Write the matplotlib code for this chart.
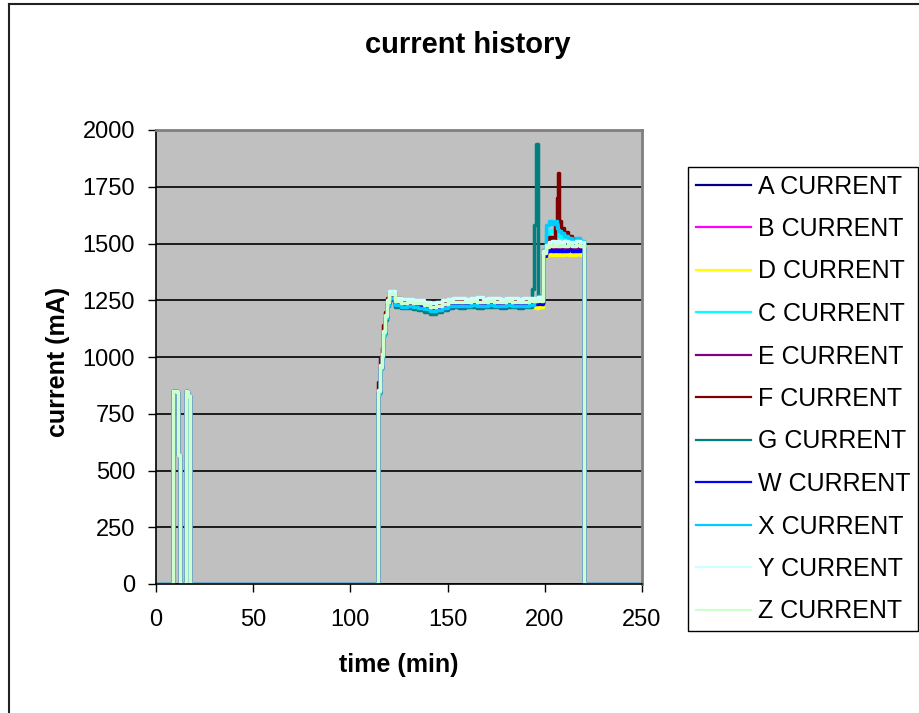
import matplotlib
matplotlib.use('Agg')
import matplotlib.pyplot as plt
from matplotlib.lines import Line2D

plt.rcParams['font.family'] = ['Liberation Sans', 'DejaVu Sans']

W, H = 919, 713

# power-on blips at the start, same for every channel
spike_t = [0, 8.8, 9.0, 11.0, 11.2, 12.1, 12.3, 15.0, 15.2, 16.0, 16.4, 17.4, 17.6]
spike_ma = [0, 0, 850, 845, 570, 565, 0, 0, 850, 845, 830, 825, 0]

# main run, minutes
run_t = [113.8, 114.2, 115, 116, 117, 118, 119,
         120, 123, 126, 129, 132, 135, 138, 141, 144, 147, 150, 153, 156,
         159, 162, 165, 168, 171, 174, 177, 180, 183, 186, 189, 192,
         193.5, 194.5, 195.5, 196.5, 198,
         199, 200.5, 202, 203.5, 205,
         206.2, 206.8, 207.4, 208.5, 210,
         212, 214, 216, 218, 220,
         220.3, 250]

labels = ['A CURRENT', 'B CURRENT', 'D CURRENT', 'C CURRENT', 'E CURRENT', 'F CURRENT',
          'G CURRENT', 'W CURRENT', 'X CURRENT', 'Y CURRENT', 'Z CURRENT']
colors = ['#000080', '#FF00FF', '#FFFF00', '#00FFFF', '#800080', '#800000',
          '#008080', '#0000FF', '#00CCFF', '#CCFFFF', '#CCFFCC']

a_ma = [0, 845, 955, 1005, 1105, 1175, 1235,
        1265, 1236, 1230, 1231, 1226, 1225, 1218, 1210, 1216, 1222, 1230, 1234, 1231,
        1233, 1236, 1232, 1233, 1236, 1234, 1231, 1236, 1233, 1231, 1234, 1236,
        1238, 1240, 1238, 1242, 1240,
        1450, 1470, 1478, 1480, 1478,
        1480, 1479, 1480, 1478, 1480,
        1479, 1478, 1480, 1478, 1479,
        0, 0]
b_ma = [0, 850, 960, 1010, 1110, 1180, 1240,
        1270, 1241, 1234, 1236, 1231, 1229, 1223, 1214, 1219, 1229, 1236, 1237, 1235,
        1239, 1241, 1235, 1239, 1239, 1237, 1237, 1241, 1239, 1235, 1237, 1239,
        1240, 1242, 1240, 1244, 1242,
        1452, 1472, 1480, 1482, 1480,
        1481, 1480, 1482, 1480, 1481,
        1480, 1479, 1481, 1480, 1480,
        0, 0]
d_ma = [0, 840, 950, 1000, 1100, 1170, 1230,
        1262, 1233, 1228, 1227, 1225, 1222, 1214, 1208, 1213, 1220, 1227, 1230, 1228,
        1230, 1232, 1228, 1231, 1232, 1230, 1228, 1231, 1226, 1224, 1222, 1224,
        1222, 1220, 1218, 1222, 1220,
        1440, 1448, 1450, 1452, 1450,
        1452, 1450, 1451, 1450, 1452,
        1450, 1451, 1452, 1450, 1452,
        0, 0]
c_ma = [0, 845, 950, 1005, 1100, 1175, 1235,
        1266, 1234, 1229, 1230, 1226, 1224, 1216, 1208, 1214, 1222, 1229, 1232, 1230,
        1232, 1234, 1231, 1232, 1234, 1232, 1230, 1234, 1232, 1230, 1232, 1234,
        1236, 1242, 1255, 1262, 1250,
        1460, 1540, 1560, 1555, 1548,
        1540, 1535, 1532, 1528, 1522,
        1518, 1515, 1520, 1512, 1508,
        0, 0]
e_ma = [0, 848, 955, 1008, 1105, 1178, 1238,
        1268, 1237, 1232, 1232, 1229, 1227, 1219, 1212, 1217, 1225, 1232, 1235, 1233,
        1235, 1237, 1233, 1235, 1237, 1235, 1233, 1237, 1235, 1233, 1235, 1237,
        1238, 1240, 1239, 1242, 1240,
        1452, 1470, 1476, 1478, 1476,
        1478, 1477, 1478, 1476, 1478,
        1477, 1476, 1478, 1476, 1477,
        0, 0]
f_ma = [0, 890, 1000, 1040, 1140, 1200, 1260,
        1285, 1258, 1252, 1250, 1246, 1243, 1236, 1229, 1233, 1241, 1248, 1250, 1248,
        1251, 1254, 1249, 1250, 1253, 1251, 1249, 1252, 1250, 1248, 1250, 1252,
        1248, 1250, 1248, 1252, 1250,
        1455, 1485, 1530, 1500, 1580,
        1700, 1810, 1600, 1570, 1550,
        1532, 1520, 1510, 1505, 1495,
        0, 0]
g_ma = [0, 835, 945, 995, 1095, 1165, 1225,
        1250, 1220, 1214, 1214, 1211, 1208, 1200, 1190, 1197, 1206, 1215, 1219, 1217,
        1219, 1221, 1216, 1219, 1221, 1219, 1217, 1221, 1219, 1217, 1219, 1221,
        1300, 1580, 1940, 1270, 1250,
        1470, 1490, 1500, 1498, 1496,
        1500, 1498, 1497, 1496, 1498,
        1497, 1496, 1498, 1496, 1497,
        0, 0]
w_ma = [0, 840, 950, 1000, 1100, 1172, 1232,
        1262, 1230, 1226, 1225, 1222, 1220, 1212, 1205, 1210, 1218, 1225, 1228, 1226,
        1228, 1230, 1226, 1228, 1230, 1228, 1226, 1230, 1228, 1226, 1228, 1230,
        1232, 1234, 1232, 1236, 1234,
        1445, 1465, 1470, 1468, 1470,
        1468, 1469, 1470, 1468, 1469,
        1470, 1468, 1469, 1470, 1468,
        0, 0]
x_ma = [0, 838, 945, 998, 1098, 1170, 1230,
        1258, 1228, 1222, 1223, 1220, 1217, 1210, 1203, 1208, 1216, 1223, 1226, 1224,
        1226, 1228, 1224, 1226, 1228, 1226, 1224, 1228, 1226, 1224, 1226, 1228,
        1230, 1245, 1262, 1270, 1255,
        1470, 1580, 1600, 1585, 1600,
        1570, 1560, 1555, 1545, 1535,
        1525, 1515, 1525, 1510, 1505,
        0, 0]
y_ma = [0, 855, 965, 1015, 1115, 1185, 1250,
        1290, 1260, 1254, 1254, 1252, 1250, 1242, 1236, 1242, 1250, 1256, 1258, 1262,
        1256, 1260, 1264, 1256, 1262, 1258, 1256, 1262, 1258, 1256, 1260, 1258,
        1260, 1262, 1262, 1264, 1262,
        1465, 1495, 1505, 1510, 1508,
        1506, 1510, 1508, 1506, 1510,
        1508, 1506, 1510, 1508, 1506,
        0, 0]
z_ma = [0, 850, 958, 1010, 1108, 1180, 1242,
        1276, 1246, 1240, 1241, 1237, 1236, 1228, 1220, 1226, 1234, 1241, 1244, 1242,
        1244, 1246, 1241, 1244, 1246, 1244, 1242, 1246, 1244, 1242, 1244, 1246,
        1246, 1248, 1246, 1250, 1248,
        1458, 1485, 1492, 1490, 1492,
        1490, 1492, 1490, 1492, 1490,
        1492, 1490, 1492, 1490, 1492,
        0, 0]

series = [a_ma, b_ma, d_ma, c_ma, e_ma, f_ma, g_ma, w_ma, x_ma, y_ma, z_ma]

fig = plt.figure(figsize=(W / 100, H / 100), dpi=100)

# chart area border
fig.add_artist(Line2D([9 / W, 9 / W], [0, 1 - 4 / H], transform=fig.transFigure, color='#222222', lw=1.5))
fig.add_artist(Line2D([9 / W, 1], [1 - 4 / H, 1 - 4 / H], transform=fig.transFigure, color='#222222', lw=1.5))

ax = fig.add_axes([156 / W, 1 - 584 / H, (642 - 156) / W, (584 - 130) / H])
ax.set_facecolor('#C0C0C0')

for vals, lab, col in zip(series, labels, colors):
    ax.plot(spike_t + run_t, spike_ma + vals, color=col, lw=2.5, label=lab,
            drawstyle='steps-post')

ax.set_xlim(0, 250)
ax.set_ylim(0, 2000)
ax.set_xticks([0, 50, 100, 150, 200, 250])
ax.set_yticks(range(0, 2001, 250))
ax.yaxis.grid(True, color='black', lw=1.2)
ax.set_axisbelow(True)
ax.tick_params(direction='out', length=6, width=1, labelsize=17, colors='black')
ax.tick_params(axis='x', pad=12)
ax.tick_params(axis='y', pad=9)
for side in ['top', 'right']:
    ax.spines[side].set_color('#808080')
    ax.spines[side].set_linewidth(2)
for side in ['left', 'bottom']:
    ax.spines[side].set_color('black')
    ax.spines[side].set_linewidth(1.2)

fig.text(468 / W, 1 - 45 / H, 'current history', ha='center', va='center',
         fontsize=21, fontweight='bold')
fig.text(399 / W, 1 - 665 / H, 'time (min)', ha='center', va='center',
         fontsize=18, fontweight='bold')
fig.text(58 / W, 1 - 362 / H, 'current (mA)', ha='center', va='center',
         fontsize=18, fontweight='bold', rotation=90)

leg = fig.legend(loc='upper left', bbox_to_anchor=(688 / W, 1 - 167 / H), borderaxespad=0,
                 fontsize=18, frameon=True, fancybox=False, framealpha=1,
                 edgecolor='black', borderpad=0.3, handlelength=2.2,
                 handletextpad=0.3, labelspacing=0.74)
leg.get_frame().set_linewidth(1)
for handle in leg.legend_handles:
    handle.set_linewidth(1.6)

fig.savefig('out.png', dpi=100)
